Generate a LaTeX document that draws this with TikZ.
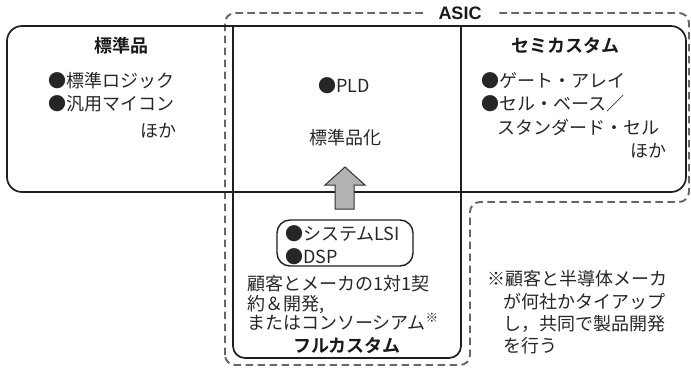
\documentclass[tikz,border=0pt]{standalone}
\usepackage{fontspec}
\setmainfont{Noto Sans CJK JP}[BoldFont={* Bold}]
\newfontfamily\asicfont{Liberation Sans}
\begin{document}
\begin{tikzpicture}[x=1pt,y=-1pt,
  boxline/.style={draw=black!88,line width=1.7pt},
  dashline/.style={draw=black!60,line width=1.9pt,dash pattern=on 7.5pt off 4.5pt},
  arrowbox/.style={draw=black!80,line width=1pt,fill=black!30,line join=miter},
  txt/.style={inner sep=0pt,text=black!85,font=\fontsize{18}{22}\selectfont},
  hd/.style={inner sep=0pt,text=black!90,font=\bfseries\fontsize{18}{22}\selectfont}
]
\useasboundingbox (0,0) rectangle (691,368);
% dashed ASIC region
\draw[dashline,rounded corners=10pt] (225,365) -- (225,13) -- (689,13) -- (689,202) -- (470,202) -- (470,365) -- cycle;
\node[fill=white,inner xsep=14pt,inner ysep=2pt,anchor=base,text=black!90,font=\asicfont\bfseries\fontsize{18}{18}\selectfont] (asic) at (460,19.5) {ASIC};
% main box
\draw[boxline,rounded corners=15pt] (7,26) rectangle (686,192);
\draw[boxline,rounded corners=12pt] (233,26) -- (233,358) -- (461,358) -- (461,26);
% arrow
\draw[arrowbox] (335,209) -- (335,185) -- (325,185) -- (345,167) -- (365,185) -- (354,185) -- (354,209) -- cycle;
% inner box
\draw[boxline,line width=1.4pt,rounded corners=13pt] (277,220) rectangle (413,266);
% left
\node[hd,anchor=base] (std) at (121,52) {標準品};
\node[txt,anchor=base west] (std1) at (48,87) {●標準ロジック};
\node[txt,anchor=base west] (std2) at (48,110) {●汎用マイコン};
\node[txt,anchor=base east] (std3) at (177,137) {ほか};
% middle
\node[txt,anchor=base west] (pld) at (318,92) {●PLD};
\node[txt,anchor=base] (stdz) at (345,144) {標準品化};
% right
\node[hd,anchor=base] (semi) at (565,52) {セミカスタム};
\node[txt,anchor=base west] (semi1) at (481,87) {●ゲート・アレイ};
\node[txt,anchor=base west] (semi2) at (481,110) {●セル・ベース／};
\node[txt,anchor=base west] (semi3) at (497,134) {スタンダード・セル};
\node[txt,anchor=base east] (semi4) at (667,157) {ほか};
% full custom
\node[txt,anchor=base west] (fc1) at (285,240) {●システムLSI};
\node[txt,anchor=base west] (fc2) at (285,263) {●DSP};
\node[txt,anchor=base west] (fc3) at (247,290) {顧客とメーカの1対1契};
\node[txt,anchor=base west] (fc4) at (247,310) {約＆開発,};
\node[txt,anchor=base west] (fc5) at (247,329) {またはコンソーシアム\textsuperscript{※}};
\node[hd,anchor=base] (fc) at (347,352) {フルカスタム};
% note
\node[txt,anchor=base west] (n1) at (487,285) {※顧客と半導体メーカ};
\node[txt,anchor=base west] (n2) at (503,308) {が何社かタイアップ};
\node[txt,anchor=base west] (n3) at (503,330) {し，共同で製品開発};
\node[txt,anchor=base west] (n4) at (503,352) {を行う};
\end{tikzpicture}
\end{document}
